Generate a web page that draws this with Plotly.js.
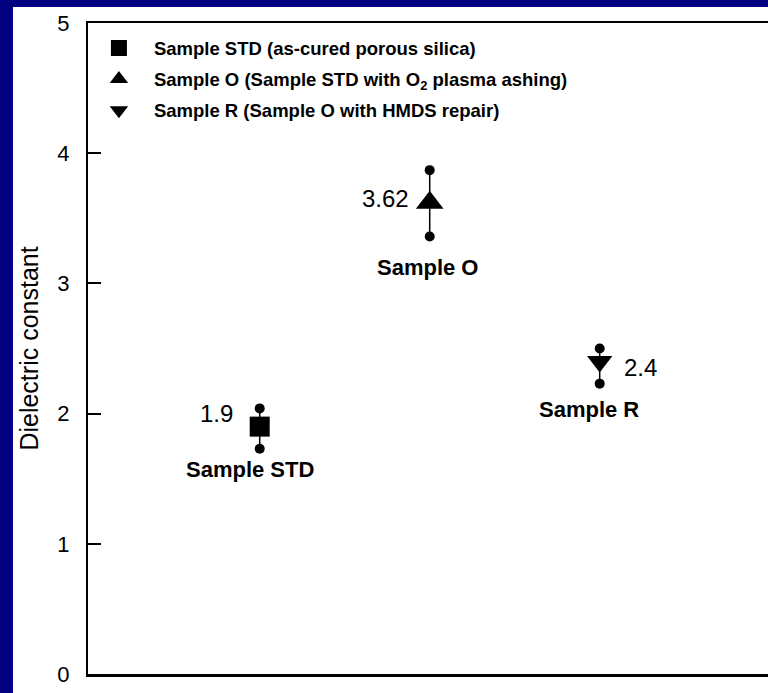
<!DOCTYPE html>
<html>
<head>
<meta charset="utf-8">
<script src="https://cdn.plot.ly/plotly-3.0.1.min.js"></script>
<style>html,body{margin:0;padding:0;background:#000080;}#chart{width:768px;height:693px;}</style>
</head>
<body>
<div id="chart"></div>
<script>
// ---- data ----
var sampleNames = ["Sample STD", "Sample O", "Sample R"];
var legendNames = ["Sample STD (as-cured porous silica)",
                   "Sample O (Sample STD with O<sub>2</sub> plasma ashing)",
                   "Sample R (Sample O with HMDS repair)"];
var xPos = [1, 2, 3];
var kValues = [1.9, 3.62, 2.4];
var kLabels = ["1.9", "3.62", "2.4"];
var errUpper = [2.04, 3.87, 2.50];
var errLower = [1.73, 3.36, 2.23];
var yTicks = [0, 1, 2, 3, 4, 5];

var symbols = ["square", "triangle-up", "triangle-down"];
var sizes = [20, 24, 22];
var FONT = "Liberation Sans, Arial, Helvetica, sans-serif";

var traces = [];
// error bars (line) + end dots
for (var i = 0; i < 3; i++) {
  traces.push({
    x: [xPos[i], xPos[i]], y: [errLower[i], errUpper[i]],
    mode: "lines+markers", type: "scatter",
    line: {color: "black", width: 1.5},
    marker: {symbol: "circle", size: 10, color: "black"},
    showlegend: false, hoverinfo: "skip"
  });
}
for (var j = 0; j < 3; j++) {
  traces.push({
    x: [xPos[j]], y: [kValues[j]],
    mode: "markers", type: "scatter",
    name: legendNames[j], legendgroup: "g" + j,
    marker: {symbol: symbols[j], size: sizes[j], color: "black"}
  });
}

var annotations = [];
var numShift = [[-43, 13], [-44, 4], [41, -6]];
var nameShift = [[-10, -43], [-2, -65], [-11, -48]];
for (var k = 0; k < 3; k++) {
  annotations.push({
    x: xPos[k], y: kValues[k], xref: "x", yref: "y",
    text: kLabels[k], showarrow: false,
    xshift: numShift[k][0], yshift: numShift[k][1],
    font: {family: FONT, size: 24, color: "black"}
  });
  annotations.push({
    x: xPos[k], y: kValues[k], xref: "x", yref: "y",
    text: "<b>" + sampleNames[k] + "</b>", showarrow: false,
    xshift: nameShift[k][0], yshift: nameShift[k][1],
    font: {family: FONT, size: 22, color: "black"}
  });
}

var layout = {
  width: 768, height: 693,
  margin: {l: 88, r: 0, t: 23, b: 19},
  paper_bgcolor: "#000080",
  plot_bgcolor: "white",
  font: {family: FONT, color: "black"},
  showlegend: true,
  legend: {
    x: -0.006, y: 0.99, xanchor: "left", yanchor: "top",
    bgcolor: "rgba(0,0,0,0)", borderwidth: 0,
    font: {family: FONT, size: 18.5, color: "black", weight: "bold"},
    itemwidth: 60, tracegroupgap: 4, itemsizing: "trace"
  },
  xaxis: {
    range: [-0.01, 3.99], showgrid: false, zeroline: false,
    showticklabels: false, ticks: "",
    showline: true, linecolor: "black", linewidth: 2.5, mirror: true
  },
  yaxis: {
    range: [0, 5], tickvals: yTicks, ticktext: yTicks.map(String),
    showgrid: false, zeroline: false,
    ticks: "inside", ticklen: 13, tickwidth: 2, tickcolor: "black",
    ticklabelstandoff: 12,
    showline: true, linecolor: "black", linewidth: 2,
    tickfont: {family: FONT, size: 22, color: "black"},
    title: {text: "Dielectric constant", font: {family: FONT, size: 25, color: "black"}, standoff: 12}
  },
  shapes: [{
    type: "rect", xref: "paper", yref: "paper",
    x0: -0.1103, x1: 1.2, y0: -0.2, y1: 1.0246,
    fillcolor: "white", line: {width: 0}, layer: "below"
  }],
  annotations: annotations
};

Plotly.newPlot("chart", traces, layout, {staticPlot: true, displayModeBar: false});
</script>
</body>
</html>
